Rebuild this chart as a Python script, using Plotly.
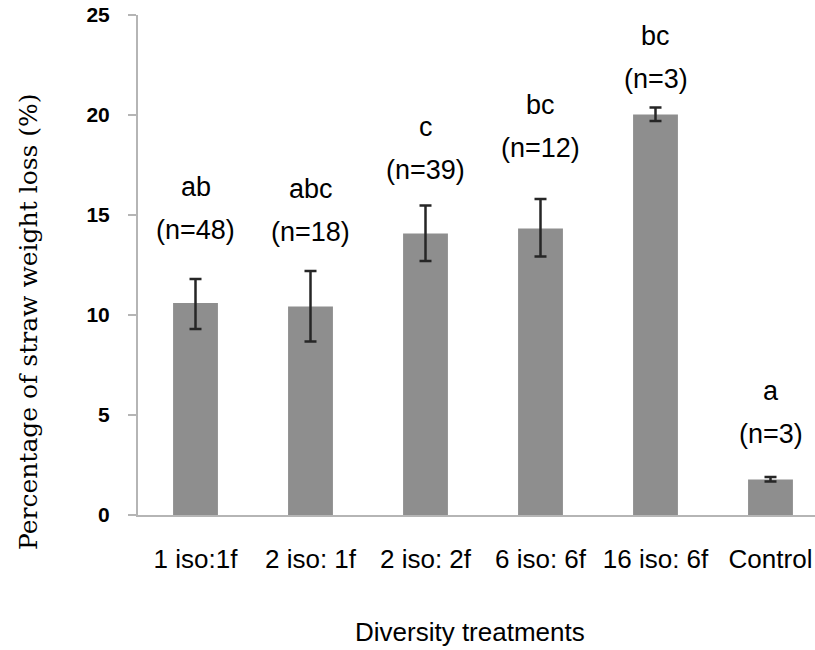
import plotly.graph_objects as go

# ---- data ----
categories = ["1 iso:1f", "2 iso: 1f", "2 iso: 2f", "6 iso: 6f", "16 iso: 6f", "Control"]
weight_loss = [10.6, 10.42, 14.08, 14.33, 20.03, 1.78]
err_plus = [1.2, 1.78, 1.39, 1.47, 0.35, 0.12]
err_minus = [1.3, 1.75, 1.38, 1.41, 0.33, 0.11]
letters = ["ab", "abc", "c", "bc", "bc", "a"]
n_values = [48, 18, 39, 12, 3, 3]
y_ticks = [0, 5, 10, 15, 20, 25]

# label heights (data units) of the "(n=..)" lines, as placed in the reference
n_label_level = [14.25, 14.15, 17.25, 18.35, 21.8, 4.05]

AXIS_GRAY = "#b5b5b5"
BAR_GRAY = "#8e8e8e"
SANS = "Liberation Sans, Arial, sans-serif"

fig = go.Figure()
fig.add_trace(go.Bar(
    x=categories,
    y=weight_loss,
    width=0.39,
    marker=dict(color=BAR_GRAY, line=dict(width=0)),
    error_y=dict(type="data", array=err_plus, arrayminus=err_minus,
                 color="#262626", thickness=2.5, width=6, visible=True),
    hoverinfo="x+y",
))

annotations = []
for cat, let, n, lvl in zip(categories, letters, n_values, n_label_level):
    annotations.append(dict(x=cat, y=lvl, xref="x", yref="y", text=f"(n={n})",
                            showarrow=False, xanchor="center", yanchor="middle",
                            font=dict(family=SANS, size=27, color="black")))
    annotations.append(dict(x=cat, y=lvl, xref="x", yref="y", text=let, yshift=43,
                            showarrow=False, xanchor="center", yanchor="middle",
                            font=dict(family=SANS, size=27, color="black")))

annotations.append(dict(text="Percentage of straw weight loss (%)", textangle=-90,
                        x=-0.1625, y=0.388, xref="paper", yref="paper",
                        xanchor="center", yanchor="middle", showarrow=False,
                        font=dict(family="DejaVu Serif, serif", size=25, color="black")))
annotations.append(dict(text="Diversity treatments",
                        x=0.4904, y=-0.234, xref="paper", yref="paper",
                        xanchor="center", yanchor="middle", showarrow=False,
                        font=dict(family=SANS, size=26, color="black")))

fig.update_layout(
    width=815, height=650,
    margin=dict(l=138, r=0, t=15, b=135, pad=0, autoexpand=False),
    paper_bgcolor="white", plot_bgcolor="white",
    showlegend=False,
    annotations=annotations,
    xaxis=dict(
        type="category",
        range=[-0.5, -0.5 + 677 / 115],
        automargin=False,
        showline=True, linecolor=AXIS_GRAY, linewidth=2,
        ticks="", showgrid=False, zeroline=False,
        tickfont=dict(family=SANS, size=26, color="black"),
        ticklabelstandoff=20,
    ),
    yaxis=dict(
        range=[0, 25],
        automargin=False,
        tickvals=y_ticks,
        ticktext=[str(v) for v in y_ticks],
        showline=True, linecolor=AXIS_GRAY, linewidth=2,
        ticks="outside", ticklen=8, tickwidth=2, tickcolor=AXIS_GRAY,
        showgrid=False, zeroline=False,
        tickfont=dict(family=SANS, size=21, color="black", weight="bold"),
        ticklabelstandoff=14,
    ),
)

fig.write_html("out.html",
               config={"displayModeBar": False},
               post_script="document.body.style.margin='0px';document.body.style.padding='0px';")
